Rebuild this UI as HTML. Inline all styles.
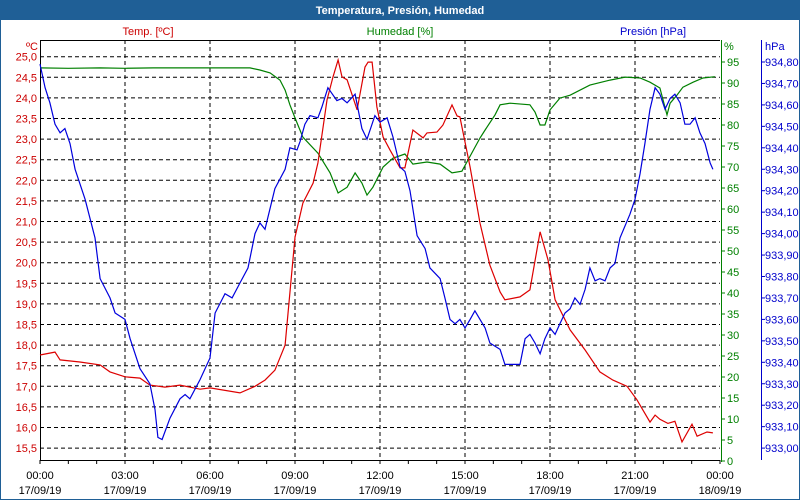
<!DOCTYPE html>
<html><head><meta charset="utf-8"><style>
body{margin:0;background:#fff}
svg{display:block;font-family:"Liberation Sans",sans-serif;font-size:11px}
</style></head><body>
<svg id="chart" width="800" height="500" viewBox="0 0 800 500">
<rect x="0" y="0" width="800" height="500" fill="#fff" stroke="#1f5f96" stroke-width="2"/>
<rect x="0" y="0" width="800" height="20" fill="#1f5f96"/>
<text x="400" y="14" text-anchor="middle" fill="#fff" font-weight="bold">Temperatura, Presión, Humedad</text>
<text x="148" y="35" text-anchor="middle" fill="#cc0000">Temp. [ºC]</text>
<text x="400" y="35" text-anchor="middle" fill="#008000">Humedad [%]</text>
<text x="653" y="35" text-anchor="middle" fill="#0000cc">Presión [hPa]</text>
<text x="38" y="50" text-anchor="end" fill="#cc0000">ºC</text>
<text x="724" y="50" fill="#008000">%</text>
<text x="765" y="50" fill="#0000cc">hPa</text>
<g id="grid"></g><g id="axes"></g><g id="series"></g>
</svg>
<script>
const tempTicks=["25,0","24,5","24,0","23,5","23,0","22,5","22,0","21,5","21,0","20,5","20,0","19,5","19,0","18,5","18,0","17,5","17,0","16,5","16,0","15,5"];
const humTicks=[95,90,85,80,75,70,65,60,55,50,45,40,35,30,25,20,15,10,5,0];
const presTicks=["934,80","934,70","934,60","934,50","934,40","934,30","934,20","934,10","934,00","933,90","933,80","933,70","933,60","933,50","933,40","933,30","933,20","933,10","933,00"];
const timeLabels=["00:00","03:00","06:00","09:00","12:00","15:00","18:00","21:00","00:00"];
const dateLabels=["17/09/19","17/09/19","17/09/19","17/09/19","17/09/19","17/09/19","17/09/19","17/09/19","18/09/19"];
const tempHours=[0,0.53,0.71,1.41,2.12,2.47,3,3.53,3.88,4.41,4.94,5.65,6,7.06,7.59,7.94,8.29,8.65,9,9.28,9.64,9.81,10.13,10.34,10.52,10.66,10.84,11.19,11.47,11.58,11.72,11.89,12.11,12.35,12.71,12.88,13.16,13.52,13.66,14.01,14.22,14.54,14.72,14.82,15.18,15.53,15.88,16.24,16.41,16.94,17.29,17.65,17.93,18.18,18.71,19.24,19.76,20.22,20.72,21.07,21.53,21.71,21.88,22.16,22.41,22.66,23.01,23.19,23.54,23.75];
const tempValues=[17.76,17.83,17.64,17.59,17.52,17.35,17.23,17.2,17.03,16.98,17.03,16.93,16.96,16.84,17.0,17.15,17.39,18.0,20.62,21.45,21.93,22.42,23.95,24.51,24.92,24.51,24.44,23.71,24.75,24.87,24.87,23.78,23.05,22.74,22.3,22.3,23.22,23.03,23.15,23.17,23.34,23.83,23.56,23.54,22.32,20.96,19.94,19.29,19.1,19.17,19.34,20.75,20.07,19.1,18.37,17.88,17.35,17.15,17.0,16.67,16.13,16.3,16.2,16.1,16.15,15.65,16.08,15.79,15.89,15.87];
const humHours=[0,1,2.12,3,4,5,6,7.41,7.76,8.12,8.47,8.65,8.82,9,9.28,9.81,10.24,10.52,10.84,11.12,11.36,11.54,11.75,12.11,12.46,12.88,13.16,13.66,14.12,14.54,14.89,15.53,15.71,16.06,16.24,16.59,17.29,17.47,17.65,17.82,18,18.35,18.71,19.41,20.12,20.65,21.18,21.53,21.88,22.13,22.24,22.48,22.69,23.05,23.4,23.82];
const humValues=[93.6,93.5,93.6,93.5,93.6,93.6,93.6,93.6,93.1,92.4,90.7,88.3,84.8,81.7,77.1,73.3,68.6,63.8,65.2,68.6,66.2,63.3,65.2,70.0,72.1,73.1,70.7,71.2,70.7,68.6,69.0,76.9,78.8,82.4,84.8,85.2,84.8,83.1,80.0,80.0,83.6,86.4,87.1,89.5,90.7,91.4,91.2,90.2,88.8,82.4,85.2,87.1,89.0,90.2,91.2,91.5];
const presHours=[0,0.18,0.35,0.53,0.71,0.88,1.06,1.24,1.59,1.94,2.12,2.47,2.65,3,3.18,3.53,3.88,4.06,4.16,4.31,4.59,4.94,5.12,5.29,5.65,6,6.18,6.53,6.78,7.06,7.34,7.59,7.76,7.94,8.29,8.65,8.82,9.07,9.18,9.35,9.53,9.81,9.95,10.16,10.48,10.66,10.84,11.12,11.36,11.54,11.82,12,12.25,12.46,12.71,12.88,13.06,13.31,13.59,13.76,14.12,14.29,14.47,14.65,14.82,15,15.18,15.35,15.53,15.71,15.88,16.24,16.41,16.94,17.12,17.29,17.47,17.65,17.82,18,18.18,18.35,18.53,18.71,18.88,19.06,19.24,19.41,19.59,19.76,19.94,20.12,20.29,20.47,20.82,21,21.18,21.35,21.53,21.71,21.88,22.06,22.24,22.41,22.59,22.76,22.94,23.12,23.29,23.47,23.65,23.75];
const presValues=[934.79,934.68,934.61,934.51,934.47,934.49,934.42,934.30,934.16,933.98,933.79,933.70,933.63,933.60,933.51,933.37,933.30,933.18,933.05,933.04,933.14,933.23,933.25,933.23,933.32,933.42,933.63,933.72,933.70,933.77,933.84,934.00,934.05,934.02,934.21,934.30,934.40,934.39,934.43,934.51,934.55,934.54,934.59,934.68,934.62,934.63,934.61,934.65,934.49,934.44,934.55,934.52,934.54,934.45,934.31,934.29,934.20,933.99,933.93,933.84,933.79,933.70,933.60,933.58,933.60,933.56,933.60,933.64,933.60,933.56,933.49,933.46,933.39,933.39,933.51,933.53,933.49,933.44,933.51,933.56,933.53,933.58,933.63,933.65,933.70,933.67,933.74,933.84,933.78,933.79,933.78,933.84,933.86,933.98,934.09,934.16,934.28,934.42,934.58,934.68,934.65,934.58,934.63,934.65,934.61,934.51,934.51,934.54,934.47,934.42,934.33,934.30];

const NS="http://www.w3.org/2000/svg";
const X0=40,X1=720,Y0=40,YB=460;
const xScale=h=>X0+h*(X1-X0)/24;
const yTemp=t=>56.7+(25-t)*41.2;
const yHum=v=>461-v*4.2;
const yPres=p=>62+(934.8-p)/0.1*21.45;
function mk(tag,attrs,parent){const e=document.createElementNS(NS,tag);for(const k in attrs)e.setAttribute(k,attrs[k]);parent.appendChild(e);return e;}
const grid=document.getElementById('grid'),axes=document.getElementById('axes'),series=document.getElementById('series');

tempTicks.forEach((t,i)=>{
  const y=yTemp(25-i*0.5);
  const l=mk('line',{x1:X0,x2:X1,y1:y,y2:y,stroke:'#000','stroke-dasharray':'4,3','stroke-width':1},grid);
  
  
  const tx=mk('text',{x:37,y:y+4,'text-anchor':'end',fill:'#cc0000'},axes);
  tx.textContent=t;
  
  
});
timeLabels.forEach((t,i)=>{
  const x=xScale(i*3);
  if(i>0&&i<8){const l=mk('line',{x1:x,x2:x,y1:Y0,y2:YB,stroke:'#000','stroke-dasharray':'4,3'},grid);
    
    }
  const a=mk('text',{x:x,y:479,'text-anchor':'middle',fill:'#000'},axes);a.textContent=t;
  
  
  const b=mk('text',{x:x,y:494,'text-anchor':'middle',fill:'#000'},axes);b.textContent=dateLabels[i];
  
  
});
for(let h=0;h<=24;h++){const x=xScale(h);const t=mk('line',{x1:x,x2:x,y1:YB,y2:YB+4,stroke:'#000'},axes);
  
  }
const fr=mk('path',{d:`M${X0+0.5},${YB+0.5}V${Y0+0.5}H${X1}`,fill:'none',stroke:'#000'},axes);


const bx=mk('line',{x1:X0,x2:X1,y1:YB+0.5,y2:YB+0.5,stroke:'#000'},axes);


const ha=mk('line',{x1:721.5,x2:721.5,y1:Y0,y2:462,stroke:'#008000'},axes);


humTicks.forEach(v=>{const y=yHum(v);
  const t=mk('line',{x1:721,x2:725,y1:y,y2:y,stroke:'#008000'},axes);
  
  
  const tx=mk('text',{x:727,y:y+4,fill:'#008000'},axes);tx.textContent=v;
  
  });
const pa=mk('line',{x1:761.5,x2:761.5,y1:Y0,y2:460,stroke:'#0000cc'},axes);


presTicks.forEach((t,i)=>{const y=yPres(934.8-i*0.1);
  const k=mk('line',{x1:761,x2:765,y1:y,y2:y,stroke:'#0000cc'},axes);
  
  
  const tx=mk('text',{x:765,y:y+4,fill:'#0000cc'},axes);tx.textContent=t;
  
  });
function line(hours,vals,ys,color,name){
  const d=hours.map((h,i)=>(i?'L':'M')+xScale(h).toFixed(1)+','+ys(vals[i]).toFixed(1)).join('');
  const p=mk('path',{d:d,fill:'none',stroke:color,'stroke-width':1.2},series);
  
  
}
line(humHours,humValues,yHum,'#008000','humidity-line');
line(tempHours,tempValues,yTemp,'#dd0000','temperature-line');
line(presHours,presValues,yPres,'#0000dd','pressure-line');
</script>
</body></html>
